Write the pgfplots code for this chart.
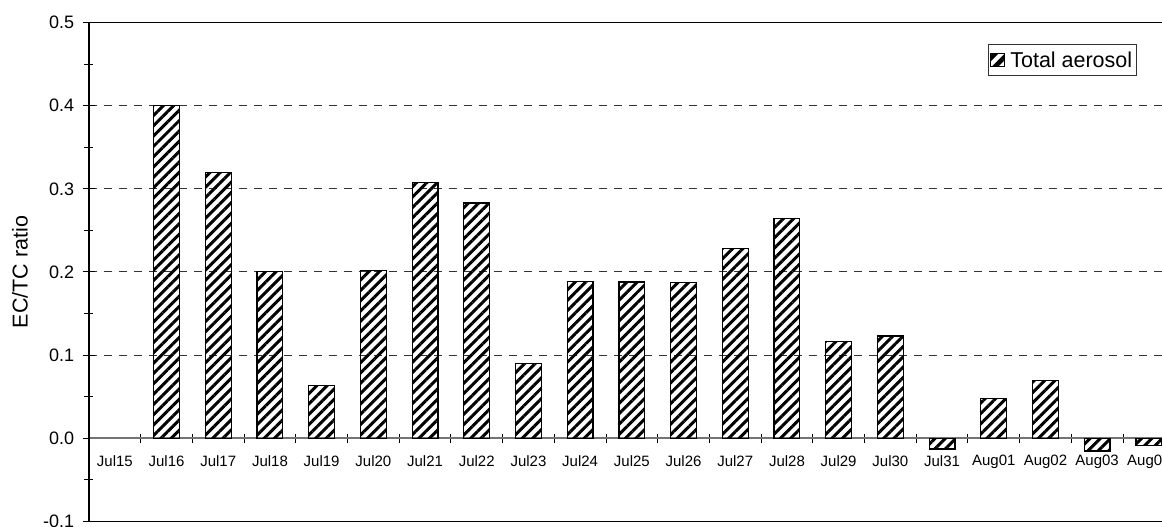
\documentclass[border=0pt]{standalone}
\usepackage{fontspec}
\setmainfont{Liberation Sans}
\usepackage{pgfplots}
\pgfplotsset{compat=1.18}
\usetikzlibrary{patterns.meta}
\begin{document}
\begin{tikzpicture}
\begin{axis}[
  at={(89pt,5.7pt)}, anchor=south west,
  scale only axis, width=1085.7pt, height=498.6pt,
  xmin=-0.5, xmax=20.5, ymin=-0.1, ymax=0.5,
  axis x line=middle, axis y line*=left,
  axis line style={-},
  x axis line style={-, draw=black!55, line width=1.5pt},
  y axis line style={-, draw=black, line width=1.5pt},
  hide obscured x ticks=false, hide obscured y ticks=false,
  xtick={0,...,20},
  xticklabels={Jul15,Jul16,Jul17,Jul18,Jul19,Jul20,Jul21,Jul22,Jul23,Jul24,Jul25,Jul26,Jul27,Jul28,Jul29,Jul30,Jul31,Aug01,Aug02,Aug03,Aug04},
  minor xtick={0.5,1.5,...,19.5},
  ytick={-0.1,0,0.1,0.2,0.3,0.4,0.5},
  yticklabels={-0.1,0.0,0.1,0.2,0.3,0.4,0.5},
  minor ytick={-0.05,0.05,0.15,0.25,0.35,0.45},
  tick align=center,
  major tick length=12pt, minor tick length=9pt,
  tick style={black, line width=1pt},
  major x tick style={draw=none},
  ymajorgrids,
  major y grid style={dash pattern=on 8pt off 7pt, black!80, line width=1pt},
  x tick label style={font=\fontsize{15}{15}\selectfont, inner sep=0pt, anchor=north, yshift=-11pt},
  y tick label style={font=\fontsize{18}{18}\selectfont, inner sep=0pt, anchor=east, xshift=-8.7pt},
  ylabel={\fontsize{21.5}{24}\selectfont EC/TC ratio},
  ylabel style={at={(axis description cs:-0.0636,0.5)}, anchor=center},
  legend style={at={(rel axis cs:0.965,0.957)}, anchor=north east, draw=black!80, line width=1pt,
    font=\fontsize{21.5}{21.5}\selectfont, inner xsep=2pt, inner ysep=5pt, nodes={inner sep=2pt},
    /tikz/every odd column/.append style={column sep=3pt}},
  legend image code/.code={\draw[pattern={Lines[angle=45,distance=9pt,line width=4.5pt]}, line width=1pt] (0pt,-6.5pt) rectangle (14pt,6.5pt);},
]
\addplot[ybar, bar width=0.5, draw=black, line width=1.2pt,
  pattern={Lines[angle=45,distance=7.3pt,line width=3pt]}, pattern color=black]
  coordinates {
  (1,0.400) (2,0.320) (3,0.201) (4,0.0635) (5,0.202) (6,0.308) (7,0.283)
  (8,0.090) (9,0.189) (10,0.188) (11,0.187) (12,0.228) (13,0.264) (14,0.116)
  (15,0.123) (16,-0.013) (17,0.048) (18,0.069) (19,-0.0155) (20,-0.009)
  };
\addlegendentry{Total aerosol}
\end{axis}
\draw[black, line width=1.3pt] (89pt,5.7pt) rectangle (1174.7pt,504.3pt);
\pgfresetboundingbox
\path[use as bounding box] (0,0) rectangle (1162pt,527pt);
\end{tikzpicture}
\end{document}
